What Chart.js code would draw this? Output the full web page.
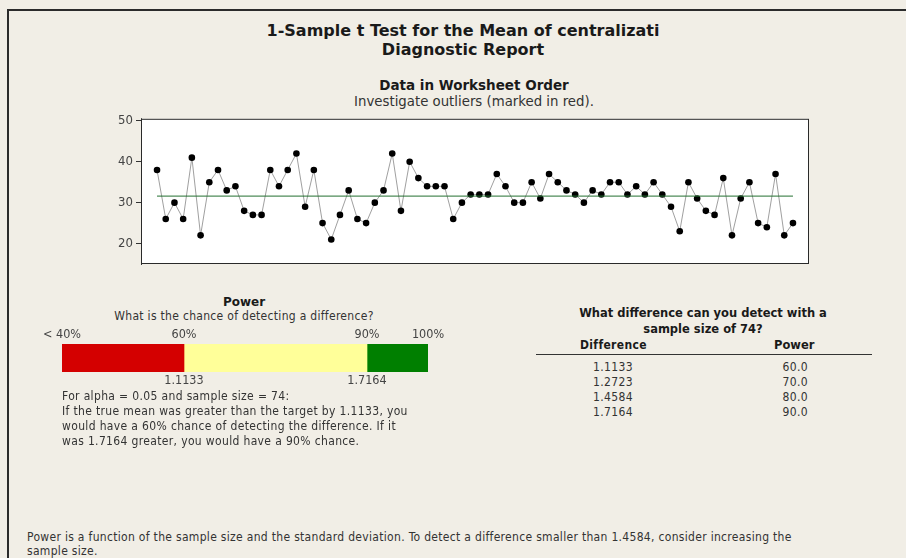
<!DOCTYPE html>
<html>
<head>
<meta charset="utf-8">
<script src="https://cdn.jsdelivr.net/npm/chart.js@4.4.1/dist/chart.umd.min.js"></script>
<style>
  body {
    margin: 0;
    width: 906px;
    height: 558px;
    position: relative;
    overflow: hidden;
    background: #f1eee6;
    font-family: 'DejaVu Sans Condensed', 'DejaVu Sans', sans-serif;
    font-stretch: condensed;
    color: #333;
  }
  .frame {
    position: absolute;
    left: 7px;
    top: 9px;
    width: 910px;
    height: 560px;
    border-top: 2px solid #2b2b2b;
    border-left: 2px solid #2b2b2b;
  }
  .t { position: absolute; white-space: nowrap; line-height: 14px; font-size: 12px; letter-spacing: 0.35px; }
  .c { transform: translateX(-50%); }
  .b { font-weight: bold; color: #1a1a1a; }
  .w { font-family: 'DejaVu Sans', sans-serif; font-stretch: normal; letter-spacing: 0; }
  .r { text-align: right; }
  .rule { position: absolute; left: 536px; top: 354px; width: 336px; height: 1px; background: #333; }
  canvas { position: absolute; }
</style>
</head>
<body>
<div class="frame"></div>

<div class="t c b w" style="left:463px; top:22px; font-size:16px; line-height:18px;">1-Sample t Test for the Mean of centralizati</div>
<div class="t c b w" style="left:463px; top:41px; font-size:16px; line-height:18px;">Diagnostic Report</div>
<div class="t c b w" style="left:474px; top:77px; font-size:13.5px; line-height:16px;">Data in Worksheet Order</div>
<div class="t c w" style="left:474px; top:94px; font-size:13.3px; line-height:16px;">Investigate outliers (marked in red).</div>

<canvas id="dataChart" width="906" height="170" style="left:0; top:108px;"></canvas>

<div class="t c b w" style="left:244px; top:295px;">Power</div>
<div class="t c" style="left:244px; top:309px; letter-spacing:0.3px;">What is the chance of detecting a difference?</div>
<canvas id="powerChart" width="480" height="70" style="left:0; top:322px;"></canvas>
<div class="t" style="left:62px; top:389px;">For alpha = 0.05 and sample size = 74:</div>
<div class="t" style="left:62px; top:404px;">If the true mean was greater than the target by 1.1133, you</div>
<div class="t" style="left:62px; top:419px;">would have a 60% chance of detecting the difference. If it</div>
<div class="t" style="left:62px; top:434px;">was 1.7164 greater, you would have a 90% chance.</div>

<div class="t c b w" style="left:703px; top:306px; font-size:11.5px;">What difference can you detect with a</div>
<div class="t c b w" style="left:703px; top:322px; font-size:11.5px;">sample size of 74?</div>
<div class="t b" style="left:580px; top:338px;">Difference</div>
<div class="t b w" style="left:774px; top:338px; font-size:11.5px;">Power</div>
<div class="rule"></div>
<div id="diffTable"></div>

<div class="t" style="left:27px; top:530px; letter-spacing:0.31px;">Power is a function of the sample size and the standard deviation. To detect a difference smaller than 1.4584, consider increasing the</div>
<div class="t" style="left:27px; top:544px; letter-spacing:0.31px;">sample size.</div>

<script>
// observations in worksheet order
const values = [
  38, 26, 30, 26, 41, 22, 35, 38, 33, 34,
  28, 27, 27, 38, 34, 38, 42, 29, 38, 25,
  21, 27, 33, 26, 25, 30, 33, 42, 28, 40,
  36, 34, 34, 34, 26, 30, 32, 32, 32, 37,
  34, 30, 30, 35, 31, 37, 35, 33, 32, 30,
  33, 32, 35, 35, 32, 34, 32, 35, 32, 29,
  23, 35, 31, 28, 27, 36, 22, 31, 35, 25,
  24, 37, 22, 25,
];
const meanValue = 31.6;
const yTicks = [20, 30, 40, 50];

// power bar
const powerBands = [[40, 60], [60, 90], [90, 100]];
const bandColors = ['#d40000', '#ffff99', '#007f00'];
const powerTicks = [40, 60, 90, 100];
const powerTickLabels = ['< 40%', '60%', '90%', '100%'];
const diffTicks = [60, 90];
const diffTickLabels = ['1.1133', '1.7164'];

// detectable difference table
const differences = ['1.1133', '1.2723', '1.4584', '1.7164'];
const powers = ['60.0', '70.0', '80.0', '90.0'];

const fontFamily = "'DejaVu Sans Condensed', 'DejaVu Sans', sans-serif";

document.addEventListener('DOMContentLoaded', function () {
  const table = document.getElementById('diffTable');
  differences.forEach((d, i) => {
    const top = 360 + i * 15;
    const left = document.createElement('div');
    left.className = 't';
    left.style.cssText = `left:593px; top:${top}px;`;
    left.textContent = d;
    const right = document.createElement('div');
    right.className = 't r';
    right.style.cssText = `left:748px; width:60px; top:${top}px;`;
    right.textContent = powers[i];
    table.appendChild(left);
    table.appendChild(right);
  });

  const plotBox = {
    id: 'plotBox',
    beforeDatasetsDraw(chart) {
      const { ctx, chartArea: a } = chart;
      ctx.save();
      ctx.fillStyle = '#ffffff';
      ctx.fillRect(a.left, a.top, a.right - a.left, a.bottom - a.top);
      ctx.restore();
    },
    afterDraw(chart) {
      const { ctx, chartArea: a } = chart;
      ctx.save();
      ctx.strokeStyle = '#2a2a2a';
      ctx.lineWidth = 1;
      ctx.strokeRect(a.left + 0.5, a.top + 0.5, a.right - a.left - 1, a.bottom - a.top - 1);
      ctx.restore();
    },
  };

  new Chart(document.getElementById('dataChart').getContext('2d'), {
    type: 'line',
    data: {
      datasets: [
        {
          data: [{ x: 1, y: meanValue }, { x: values.length, y: meanValue }],
          borderColor: '#237030',
          borderWidth: 1,
          pointRadius: 0,
        },
        {
          data: values.map((v, i) => ({ x: i + 1, y: v })),
          borderColor: '#a0a0a0',
          borderWidth: 1,
          pointRadius: 3.3,
          pointBackgroundColor: '#000',
          pointBorderColor: '#000',
          pointBorderWidth: 0,
          tension: 0,
        },
      ],
    },
    options: {
      responsive: false,
      animation: false,
      layout: { padding: { left: 100, right: 97, top: 10, bottom: 14 } },
      plugins: { legend: { display: false }, tooltip: { enabled: false } },
      scales: {
        x: { type: 'linear', min: -0.84, max: 75.84, display: false },
        y: {
          min: 15,
          max: 50.5,
          afterBuildTicks: (s) => { s.ticks = yTicks.map((v) => ({ value: v })); },
          afterFit: (s) => { s.width = 41; },
          grid: { drawOnChartArea: false, tickLength: 5, color: '#333' },
          border: { color: '#333' },
          ticks: { color: '#444', padding: 3, font: { size: 13, family: fontFamily } },
        },
      },
    },
    plugins: [plotBox],
  });

  new Chart(document.getElementById('powerChart').getContext('2d'), {
    type: 'bar',
    data: {
      labels: ['Power'],
      datasets: powerBands.map((band, i) => ({
        data: [band],
        backgroundColor: bandColors[i],
        barPercentage: 1,
        categoryPercentage: 1,
        grouped: false,
      })),
    },
    options: {
      indexAxis: 'y',
      responsive: false,
      animation: false,
      layout: { padding: { left: 62, right: 52 } },
      plugins: { legend: { display: false }, tooltip: { enabled: false } },
      scales: {
        x: {
          type: 'linear',
          position: 'top',
          min: 40,
          max: 100,
          afterBuildTicks: (s) => { s.ticks = powerTicks.map((v) => ({ value: v })); },
          afterFit: (s) => { s.height = 22; },
          grid: { display: false, drawTicks: false },
          border: { display: false },
          ticks: {
            autoSkip: false,
            maxRotation: 0,
            padding: 2,
            color: '#444',
            font: { size: 12.5, family: fontFamily },
            callback: (v) => powerTickLabels[powerTicks.indexOf(v)],
          },
        },
        x2: {
          type: 'linear',
          position: 'bottom',
          min: 40,
          max: 100,
          afterBuildTicks: (s) => { s.ticks = diffTicks.map((v) => ({ value: v })); },
          afterFit: (s) => { s.height = 20; },
          grid: { display: false, drawTicks: false },
          border: { display: false },
          ticks: {
            autoSkip: false,
            maxRotation: 0,
            padding: 1,
            color: '#444',
            font: { size: 12.5, family: fontFamily },
            callback: (v) => diffTickLabels[diffTicks.indexOf(v)],
          },
        },
        y: { display: false },
      },
    },
  });
});
</script>
</body>
</html>
